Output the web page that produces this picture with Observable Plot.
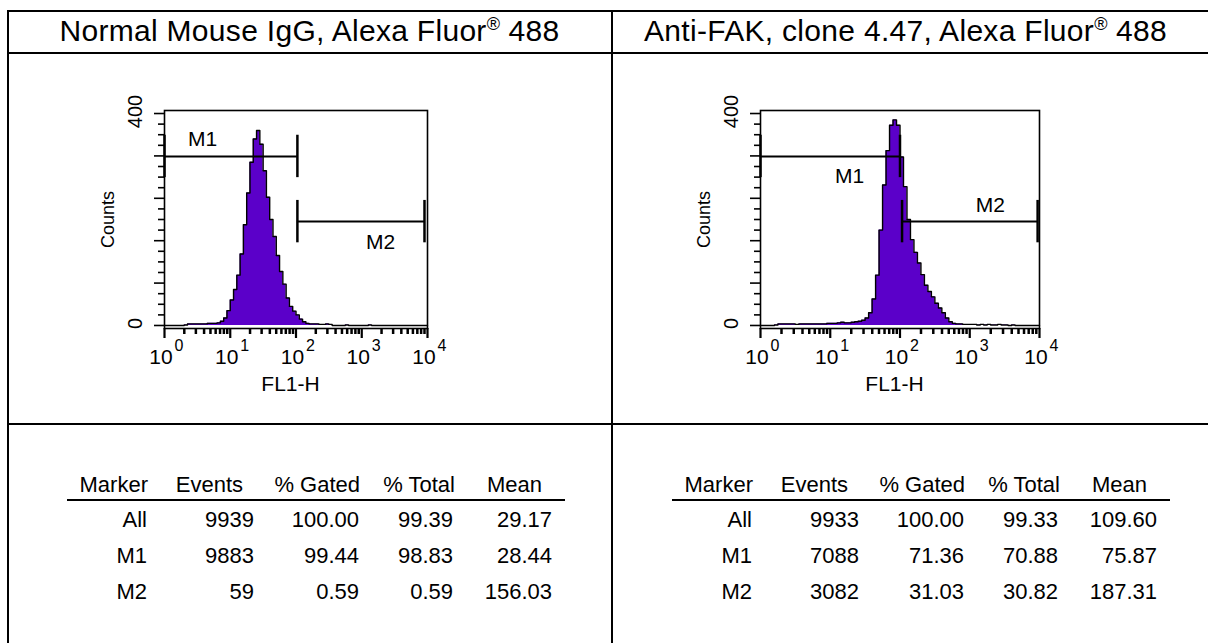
<!DOCTYPE html>
<html>
<head>
<meta charset="utf-8">
<script src="https://cdn.jsdelivr.net/npm/d3@7"></script>
<script src="https://cdn.jsdelivr.net/npm/@observablehq/plot@0.6"></script>
<style>
  body { margin: 0; background: #fff; }
  #page { position: relative; width: 1208px; height: 643px; overflow: hidden; background: #fff;
          font-family: "Liberation Sans", Arial, sans-serif; color: #000; }
  .ln { position: absolute; background: #000; }
  .title { position: absolute; top: 16px; width: 603px; font-size: 30px; line-height: 30px; letter-spacing: 0.3px;
           text-align: center; white-space: nowrap; }
  .title sup { font-size: 0.6em; line-height: 0; vertical-align: 0.62em; letter-spacing: 0; }
  .cell { position: absolute; width: 200px; font-size: 22px; line-height: 22px; text-align: right; white-space: nowrap; }
  .plot { position: absolute; top: 80px; }
</style>
</head>
<body>
<div id="page"></div>
<script>
// ---------------- data ----------------
const titles = ["Normal Mouse IgG, Alexa Fluor<sup>®</sup> 488", "Anti-FAK, clone 4.47, Alexa Fluor<sup>®</sup> 488"];

// histogram channel grid (log10 of FL1-H, bin starts)
const decades = [0.00,0.05,0.10,0.15,0.20,0.25,0.30,0.35,0.40,0.45,0.50,0.55,0.60,0.65,0.70,0.75,0.80,0.85,0.90,0.95,
  1.00,1.05,1.10,1.15,1.20,1.25,1.30,1.35,1.40,1.45,1.50,1.55,1.60,1.65,1.70,1.75,1.80,1.85,1.90,1.95,
  2.00,2.05,2.10,2.15,2.20,2.25,2.30,2.35,2.40,2.45,2.50,2.55,2.60,2.65,2.70,2.75,2.80,2.85,2.90,2.95,
  3.00,3.05,3.10,3.15,3.20,3.25,3.30,3.35,3.40,3.45,3.50,3.55,3.60,3.65,3.70,3.75,3.80,3.85,3.90,3.95,4.00];

const countsIgG = [0,0,0,0,0,0,1,3,3,3,3,3,3,4,4,4,5,8,14,28,
  48,68,95,135,190,250,308,352,368,342,292,242,200,168,132,102,78,52,36,27,
  20,12,7,4,3,3,3,2,2,3,2,0,0,0,0,1,0,0,0,0,
  0,0,1,0,0,0,0,0,0,0,0,0,0,0,0,0,0,0,0,0,0];

const countsFAK = [0,0,0,0,1,3,3,3,3,3,2,3,3,3,3,3,3,3,3,4,
  4,4,5,6,5,5,6,7,8,10,14,24,50,95,180,265,330,378,388,378,
  318,262,200,162,138,118,96,76,64,54,42,33,24,14,7,4,3,3,2,2,
  2,2,1,2,1,2,1,1,2,1,1,0,1,0,0,0,0,0,0,0,0];

// y axis ticks (counts) and x axis ticks (FL1-H)
const yMajor = [0, 80, 160, 240, 320, 400];
const yMinor = [20, 40, 60, 100, 120, 140, 180, 200, 220, 260, 280, 300, 340, 360, 380];
const xMajor = [1, 10, 100, 1000, 10000];
const xExponent = ["0", "1", "2", "3", "4"];
const xMinor = [2,3,4,5,6,7,8,9, 20,30,40,50,60,70,80,90, 200,300,400,500,600,700,800,900, 2000,3000,4000,5000,6000,7000,8000,9000];
const yLabels = [0, 400];

// markers
const markerNames = ["M1", "M2"];
const markerStartIgG = [1, 105];
const markerEndIgG = [105, 9000];
const markerLevelIgG = [319, 196];
const markerLabelAtIgG = [3.8, 1930];
const markerSideIgG = ["above", "below"];

const markerStartFAK = [1, 107];
const markerEndFAK = [100, 9400];
const markerLevelFAK = [319, 196];
const markerLabelAtFAK = [18.9, 1980];
const markerSideFAK = ["below", "above"];

// statistics tables
const statHeaders = ["Marker", "Events", "% Gated", "% Total", "Mean"];
const statMarkers = ["All", "M1", "M2"];
const eventsIgG = ["9939", "9883", "59"];
const gatedIgG = ["100.00", "99.44", "0.59"];
const totalIgG = ["99.39", "98.83", "0.59"];
const meanIgG = ["29.17", "28.44", "156.03"];
const eventsFAK = ["9933", "7088", "3082"];
const gatedFAK = ["100.00", "71.36", "31.03"];
const totalFAK = ["99.33", "70.88", "30.82"];
const meanFAK = ["109.60", "75.87", "187.31"];

// ---------------- layout ----------------
const page = document.getElementById("page");
function line(l, t, w, h) {
  const d = document.createElement("div");
  d.className = "ln";
  Object.assign(d.style, {left: l + "px", top: t + "px", width: w + "px", height: h + "px"});
  page.appendChild(d);
}
line(7, 10, 1220, 2);     // top border
line(7, 52, 1220, 2);     // header separator
line(7, 423, 1220, 2);    // chart / table separator
line(7, 10, 2, 640);      // left border
line(611, 10, 2, 640);    // column divider

const titleLeft = [8, 604];
titles.forEach((t, i) => {
  const d = document.createElement("div");
  d.className = "title";
  d.style.left = titleLeft[i] + "px";
  d.innerHTML = t;
  page.appendChild(d);
});

// ---------------- plots ----------------
const FONT = '"Liberation Sans", Arial, sans-serif';
function flowPlot(counts, mk, frameL, frameR, svgLeft) {
  const data = decades.map((d, i) => ({x: Math.pow(10, d), count: counts[i]}));
  const markers = markerNames.map((n, i) => ({name: n, start: mk.start[i], end: mk.end[i], level: mk.level[i], at: mk.at[i], side: mk.side[i]}));
  const ends = markers.flatMap(m => [{x: m.start, level: m.level}, {x: m.end, level: m.level}]);
  const W = 500, H = 330, top = 80;
  const plot = Plot.plot({
    width: W, height: H,
    marginLeft: frameL - svgLeft, marginRight: W - (frameR - svgLeft),
    marginTop: 110 - top, marginBottom: H - (328 - top),
    x: {type: "log", domain: [1, 10000], axis: null},
    y: {domain: [-5.7, 405.7], axis: null},
    style: {fontFamily: FONT, fontSize: "21px", background: "transparent", color: "#000", overflow: "visible"},
    marks: [
      Plot.areaY(data, {x: "x", y: "count", curve: "step-after", fill: "#5b00c9"}),
      Plot.lineY(data, {x: "x", y: "count", curve: "step-after", stroke: "#000", strokeWidth: 1.4}),
      Plot.frame({stroke: "#000", strokeWidth: 1.6}),
      Plot.axisY({ticks: yMajor, anchor: "left", tickSize: 10, strokeWidth: 1.6, fill: "none", label: null}),
      Plot.axisY({ticks: yMinor, anchor: "left", tickSize: 6, strokeWidth: 1.6, fill: "none", label: null}),
      Plot.axisX({ticks: xMajor, anchor: "bottom", tickSize: 10, strokeWidth: 2.2, fill: "none", label: null}),
      Plot.axisX({ticks: xMinor, anchor: "bottom", tickSize: 6, strokeWidth: 2.5, fill: "none", label: null}),
      Plot.text(xMajor, {x: d => d, frameAnchor: "bottom", text: () => "10", textAnchor: "middle", dx: -3.5, dy: 35, lineAnchor: "bottom", fontSize: 21}),
      Plot.text(xMajor, {x: d => d, frameAnchor: "bottom", text: (d, i) => xExponent[i], textAnchor: "middle", dx: 14.5, dy: 22, lineAnchor: "bottom", fontSize: 16}),
      Plot.text(yLabels, {y: d => d, frameAnchor: "left", text: d => String(d), textAnchor: "middle", dx: -28.5, dy: -2, rotate: -90, lineAnchor: "middle", fontSize: 20}),
      Plot.text(["Counts"], {frameAnchor: "left", text: d => d, textAnchor: "middle", dx: -56, dy: 0, rotate: -90, lineAnchor: "middle", fontSize: 18, letterSpacing: "1.5px"}),
      Plot.text(["FL1-H"], {frameAnchor: "bottom", text: d => d, textAnchor: "middle", dx: -5.5, dy: 62, lineAnchor: "bottom", fontSize: 21, letterSpacing: "-0.5px"}),
      Plot.ruleY(markers, {y: "level", x1: "start", x2: "end", stroke: "#000", strokeWidth: 2}),
      Plot.ruleX(ends, {x: "x", y1: d => d.level - 40, y2: d => d.level + 40, stroke: "#000", strokeWidth: 2.5}),
      Plot.text(markers.filter(m => m.side === "above"), {x: "at", y: "level", text: "name", dy: -10, lineAnchor: "bottom", fontSize: 21}),
      Plot.text(markers.filter(m => m.side === "below"), {x: "at", y: "level", text: "name", dy: 27, lineAnchor: "bottom", fontSize: 21})
    ]
  });
  plot.classList.add("plot");
  plot.style.left = svgLeft + "px";
  page.appendChild(plot);
}

flowPlot(countsIgG, {start: markerStartIgG, end: markerEndIgG, level: markerLevelIgG, at: markerLabelAtIgG, side: markerSideIgG}, 164, 427, 40);
flowPlot(countsFAK, {start: markerStartFAK, end: markerEndFAK, level: markerLevelFAK, at: markerLabelAtFAK, side: markerSideFAK}, 760, 1039, 640);

// ---------------- statistics tables ----------------
const headerRight = [141, 236, 353, 448, 535];
const valueRight = [140, 247, 352, 446, 545];
const headerBase = 493, rowBase = [528, 564, 600];
function cell(text, right, baseline) {
  const d = document.createElement("div");
  d.className = "cell";
  d.style.left = (right - 200) + "px";
  d.style.top = (baseline - 18.6) + "px";
  d.textContent = text;
  page.appendChild(d);
}
function statTable(x0, cols) {
  statHeaders.forEach((h, j) => cell(h, x0 + headerRight[j], headerBase));
  line(x0 + 60, 499, 498, 1.6);
  statMarkers.forEach((m, i) => {
    const vals = [m, cols[0][i], cols[1][i], cols[2][i], cols[3][i]];
    vals.forEach((v, j) => cell(v, x0 + valueRight[j], rowBase[i]));
  });
}
statTable(7, [eventsIgG, gatedIgG, totalIgG, meanIgG]);
statTable(612, [eventsFAK, gatedFAK, totalFAK, meanFAK]);
</script>
</body>
</html>
